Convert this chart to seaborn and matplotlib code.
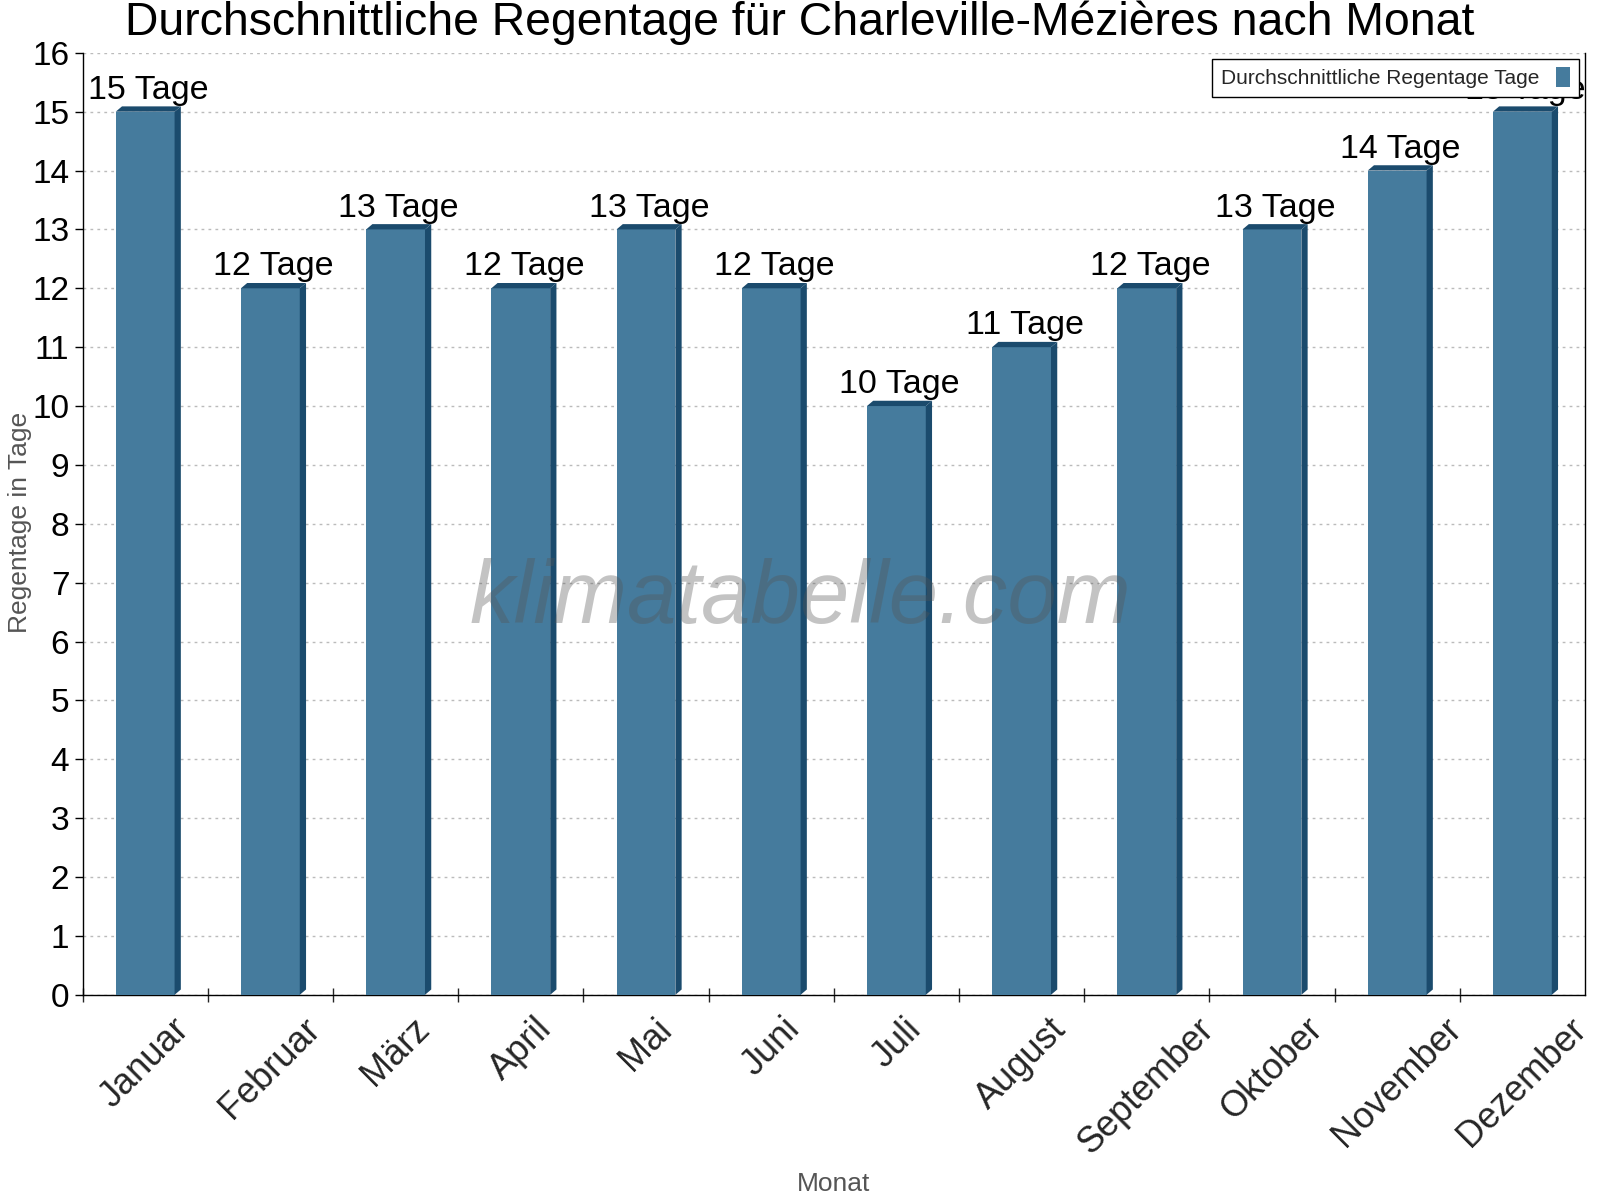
import matplotlib
matplotlib.use("Agg")
from matplotlib import pyplot as plt
from matplotlib.patches import Polygon
import seaborn as sns
import numpy as np
import pandas as pd

monate = ["Januar", "Februar", "März", "April", "Mai", "Juni", "Juli",
          "August", "September", "Oktober", "November", "Dezember"]
regentage = [15, 12, 13, 12, 13, 12, 10, 11, 12, 13, 14, 15]

face = "#457b9d"
dark = "#1b4b6d"

sns.set_style("white")
plt.rcParams['font.family'] = ['Liberation Sans', 'DejaVu Sans']

df = pd.DataFrame({"Monat": monate, "Tage": regentage})

fig = plt.figure(figsize=(16, 12), dpi=100)
ax = fig.add_axes([0.0516, 0.171, 0.939, 0.785])

sns.barplot(data=df, x="Monat", y="Tage", color=face, width=0.47, linewidth=0,
            saturation=1, ax=ax, label="Durchschnittliche Regentage Tage", zorder=3)

# fake 3d side + top faces
dx, dy = 0.05, 0.09
for p in list(ax.patches):
    x0 = p.get_x()
    x1 = x0 + p.get_width()
    h = p.get_height()
    side = Polygon([(x1, 0), (x1 + dx, dy), (x1 + dx, h + dy), (x1, h)],
                   closed=True, facecolor=dark, edgecolor="none", zorder=3)
    top = Polygon([(x0, h), (x0 + dx, h + dy), (x1 + dx, h + dy), (x1, h)],
                  closed=True, facecolor=dark, edgecolor="none", zorder=3)
    ax.add_patch(side)
    ax.add_patch(top)
    ax.text(x0 + p.get_width() / 2 + dx / 2, h + 0.1, f"{int(h)} Tage",
            ha="center", va="bottom", fontsize=24.5, color="black", zorder=4)

ax.set_xlim(-0.5, len(monate) - 0.5)
ax.set_ylim(0, 16)
ax.set_yticks(range(0, 17))
ax.tick_params(axis="y", labelsize=24, length=6, width=1, direction="out", left=True, colors="black")

ax.set_xticks(np.arange(len(monate)) - 0.5, [""] * len(monate))
ax.set_xticks(np.arange(len(monate)), monate, minor=True)
ax.tick_params(axis="x", which="major", length=10, width=1, direction="inout", bottom=True)
ax.tick_params(axis="x", which="minor", length=0, labelsize=26, pad=12)
for lbl in ax.get_xticklabels(minor=True):
    lbl.set_rotation(45)
    lbl.set_ha("center")

ax.yaxis.grid(True, linestyle=(0, (2, 3)), color="#bbbbbb", linewidth=1, zorder=0)
ax.set_axisbelow(True)

for s in ["left", "bottom", "right"]:
    ax.spines[s].set_color("black")
    ax.spines[s].set_linewidth(1)
ax.spines["top"].set_visible(False)

ax.set_xlabel("")
ax.set_ylabel("")
fig.text(0.0128, 0.565, "Regentage in Tage", rotation=90, ha="center", va="center",
         fontsize=19, color="#555555")
fig.text(0.521, 0.013, "Monat", ha="center", va="center", fontsize=19, color="#555555")
fig.text(0.5, 0.981, "Durchschnittliche Regentage für Charleville-Mézières nach Monat",
         ha="center", va="center", fontsize=33.4, color="black")

fig.text(0.5, 0.5, "klimatabelle.com", ha="center", va="center",
         fontsize=64, style="italic", color="#555555", alpha=0.35, zorder=5)

leg = ax.legend(loc="upper right", fontsize=15, markerfirst=False, fancybox=False,
                framealpha=1, edgecolor="black", handlelength=0.7, handleheight=1.1,
                borderaxespad=0.3)
leg.get_frame().set_linewidth(1)
leg.set_zorder(6)

fig.savefig("out.png", dpi=100)
